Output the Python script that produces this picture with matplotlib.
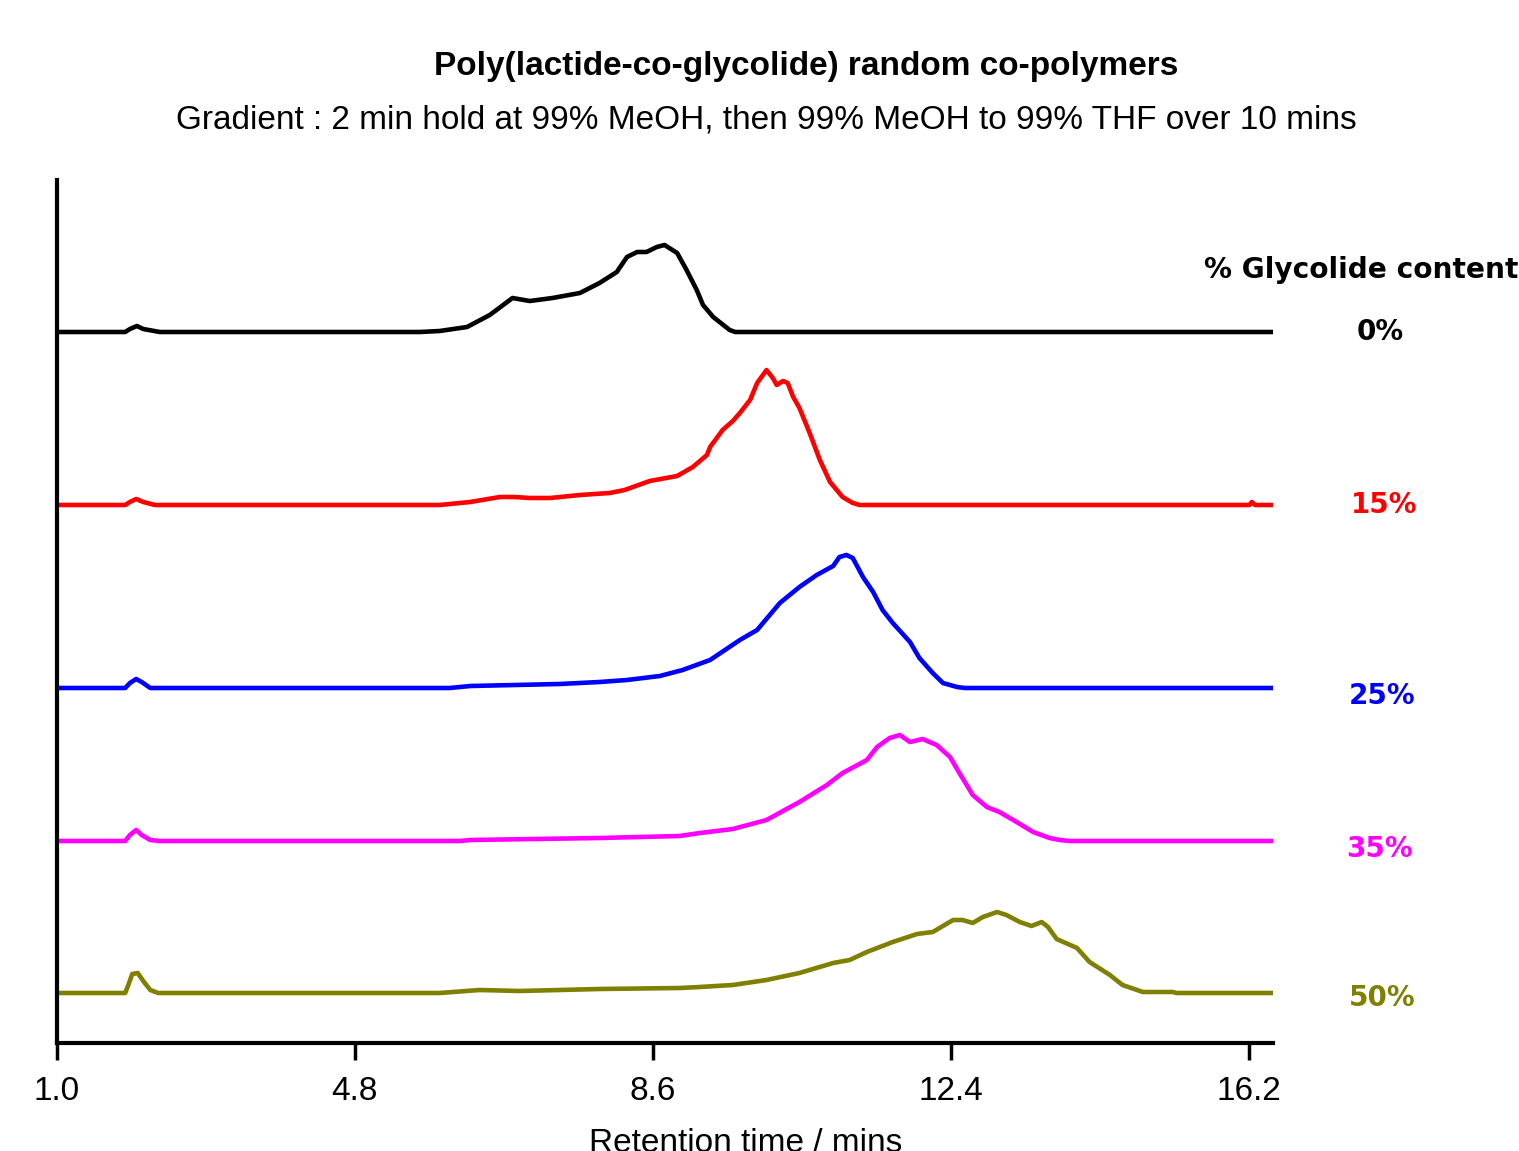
import matplotlib
matplotlib.use("Agg")
import matplotlib.pyplot as plt
import matplotlib.transforms as mtransforms
import numpy as np

# ---- data (retention time in mins, detector signal in arbitrary units) ----
t_0 = [1.00, 1.87, 1.93, 2.02, 2.10, 2.31, 5.63, 5.88, 6.23, 6.52, 6.81, 7.03, 7.32, 7.67, 7.92,
       8.14, 8.27, 8.40, 8.52, 8.65, 8.75, 8.91, 9.03, 9.16, 9.24, 9.37, 9.58, 9.65, 16.51]
s_0 = [0, 0, 3, 6, 3, 0, 0, 1, 5, 17, 34, 31, 34, 39, 49,
       60, 75, 80, 80, 85, 87, 79, 62, 42, 27, 15, 2, 0, 0]

t_15 = [1.00, 1.87, 1.93, 2.01, 2.10, 2.25, 5.88, 6.27, 6.65, 6.84, 7.03, 7.29, 7.67, 8.05, 8.24,
        8.56, 8.91, 9.11, 9.29, 9.33, 9.49, 9.62, 9.71, 9.84, 9.93, 10.05, 10.13, 10.18, 10.26,
        10.32, 10.39, 10.47, 10.60, 10.73, 10.86, 11.02, 11.15, 11.24, 16.21, 16.24, 16.28, 16.51]
s_15 = [0, 0, 3, 6, 3, 0, 0, 3, 8, 8, 7, 7, 10, 12, 15,
        24, 29, 38, 50, 58, 75, 84, 92, 105, 122, 135, 127, 120, 124,
        122, 108, 97, 72, 45, 23, 8, 2, 0, 0, 3, 0, 0]

t_25 = [1.00, 1.87, 1.93, 2.01, 2.08, 2.19, 6.01, 6.27, 7.41, 7.92, 8.27, 8.69, 8.98, 9.33, 9.71,
        9.93, 10.22, 10.47, 10.69, 10.90, 10.98, 11.07, 11.15, 11.28, 11.41, 11.53, 11.66, 11.88,
        12.00, 12.17, 12.30, 12.48, 12.58, 16.51]
s_25 = [0, 0, 5, 9, 6, 0, 0, 2, 4, 6, 8, 12, 18, 28, 48,
        58, 85, 101, 113, 122, 131, 133, 130, 111, 96, 78, 65, 46,
        30, 15, 5, 1, 0, 0]

t_35 = [1.00, 1.87, 1.93, 2.01, 2.08, 2.19, 2.31, 6.14, 6.27, 7.92, 8.94, 9.20, 9.62, 10.05, 10.47,
        10.82, 11.02, 11.33, 11.46, 11.62, 11.75, 11.88, 12.04, 12.22, 12.39, 12.51, 12.68, 12.86,
        13.02, 13.24, 13.45, 13.66, 13.79, 13.92, 16.51]
s_35 = [0, 0, 6, 11, 6, 1, 0, 0, 1, 3, 5, 8, 12, 21, 39,
        56, 68, 81, 94, 103, 106, 99, 102, 96, 84, 68, 46, 34,
        29, 19, 9, 3, 1, 0, 0]

t_50 = [1.00, 1.87, 1.91, 1.96, 2.03, 2.10, 2.19, 2.29, 5.88, 6.39, 6.90, 7.92, 8.94, 9.20, 9.62,
        10.05, 10.47, 10.90, 11.11, 11.33, 11.66, 11.97, 12.17, 12.43, 12.55, 12.68, 12.81, 12.99,
        13.11, 13.28, 13.43, 13.56, 13.64, 13.75, 14.01, 14.17, 14.43, 14.59, 14.85, 15.23, 15.28, 16.51]
s_50 = [0, 0, 8, 19, 20, 12, 3, 0, 0, 3, 2, 4, 5, 6, 8,
        13, 20, 30, 33, 41, 51, 59, 61, 73, 73, 70, 76, 81,
        78, 71, 67, 71, 66, 54, 45, 31, 18, 8, 1, 1, 0, 0]

labels = ["0%", "15%", "25%", "35%", "50%"]
offsets = [711, 538, 355, 202, 50]
colors = ["#000000", "#ff0000", "#0000ff", "#ff00ff", "#808000"]
xticks = [1.0, 4.8, 8.6, 12.4, 16.2]
xticklabels = ["1.0", "4.8", "8.6", "12.4", "16.2"]

traces_t = [t_0, t_15, t_25, t_35, t_50]
traces_s = [s_0, s_15, s_25, s_35, s_50]

W, H = 1519, 1151
fig = plt.figure(figsize=(W / 100, H / 100), dpi=100)
ax = fig.add_axes([57 / W, (H - 1043) / H, (1273 - 57) / W, (1043 - 180) / H])

for tt, ss, off, c in zip(traces_t, traces_s, offsets, colors):
    ax.plot(tt, np.array(ss) + off, color=c, lw=3.3, solid_joinstyle="round",
            solid_capstyle="butt")

ax.set_xlim(1.0, 16.51)
ax.set_ylim(0, 863)
ax.set_xticks(xticks)
ax.set_xticklabels(xticklabels, fontsize=24, family="Liberation Sans")
ax.set_yticks([])
ax.tick_params(axis="x", direction="out", length=12, width=2.5, pad=12, colors="black")
for sp in ["top", "right"]:
    ax.spines[sp].set_visible(False)
for sp in ["left", "bottom"]:
    ax.spines[sp].set_linewidth(3)

fig.text(746 / W, 1 - 1143 / H, "Retention time / mins", ha="center", va="center",
         fontsize=24, family="Liberation Sans")

fig.text(806 / W, 1 - 66 / H, "Poly(lactide-co-glycolide) random co-polymers", ha="center", va="center",
         fontsize=24, fontweight="bold", family="Liberation Sans")
fig.text(766 / W, 1 - 120 / H, "Gradient : 2 min hold at 99% MeOH, then 99% MeOH to 99% THF over 10 mins",
         ha="center", va="center", fontsize=24, family="Liberation Sans")

fig.text(1361 / W, 1 - 270 / H, "% Glycolide content", ha="center", va="center",
         fontsize=20.2, fontweight="bold", family="DejaVu Sans")

trans = mtransforms.blended_transform_factory(fig.transFigure, ax.transData)
label_x = [1380, 1384, 1382, 1379, 1382]
label_dy = [0, 0, -8, -8, -5]
for lab, off, c, lx, dy in zip(labels, offsets, colors, label_x, label_dy):
    ax.text(lx / W, off + dy, lab, transform=trans, ha="center", va="center", color=c,
            fontsize=20, fontweight="bold", family="DejaVu Sans", clip_on=False)

fig.savefig("out.png", dpi=100)
